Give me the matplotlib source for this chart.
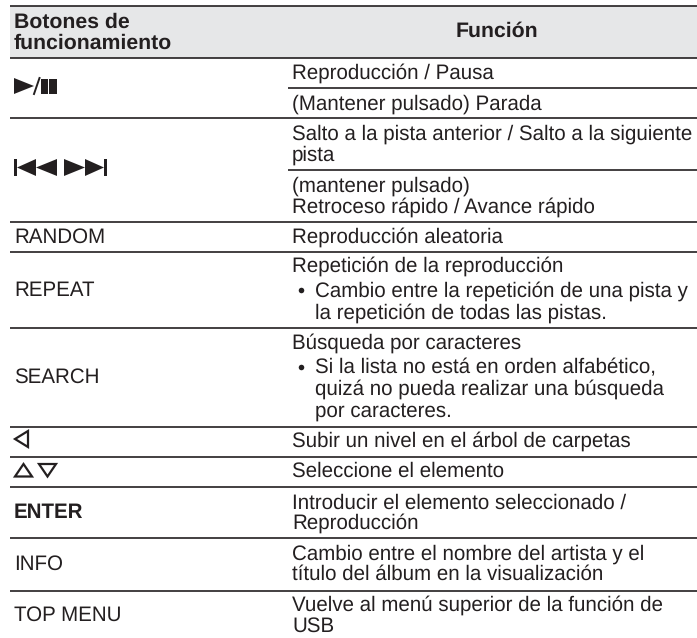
import matplotlib
matplotlib.use("Agg")
import matplotlib.pyplot as plt
from matplotlib.patches import Rectangle, Polygon

W, H = 697, 638
plt.rcParams['font.family'] = ['Liberation Sans', 'DejaVu Sans']
plt.rcParams['text.hinting'] = 'no_hinting'
plt.rcParams['text.hinting_factor'] = 8

header_left = ["Botones de", "funcionamiento"]
header_left_y = [21, 42]
left_labels = ["RANDOM", "REPEAT", "SEARCH", "ENTER", "INFO", "TOP MENU"]
left_y = [236, 289, 376, 511, 563, 614]
left_weight = ["normal", "normal", "normal", "bold", "normal", "normal"]
right_lines = [
    ("Reproducción / Pausa", 292, 72), ("(Mantener pulsado) Parada", 292, 103),
    ("Salto a la pista anterior / Salto a la siguiente", 292, 133), ("pista", 292, 154),
    ("(mantener pulsado)", 292, 185), ("Retroceso rápido / Avance rápido", 292, 206),
    ("Reproducción aleatoria", 292, 236), ("Repetición de la reproducción", 292, 265),
    ("Cambio entre la repetición de una pista y", 315, 290), ("la repetición de todas las pistas.", 315, 312),
    ("Búsqueda por caracteres", 292, 342), ("Si la lista no está en orden alfabético,", 315, 367),
    ("quizá no pueda realizar una búsqueda", 315, 388), ("por caracteres.", 315, 410),
    ("Subir un nivel en el árbol de carpetas", 292, 440), ("Seleccione el elemento", 292, 470),
    ("Introducir el elemento seleccionado /", 292, 502), ("Reproducción", 292, 522),
    ("Cambio entre el nombre del artista y el", 292, 553), ("título del álbum en la visualización", 292, 573),
    ("Vuelve al menú superior de la función de", 292, 604), ("USB", 292, 625),
]
bullets_y = [290, 367]
full_rules = [6, 57.5, 118, 221.5, 252, 328, 426.5, 456.5, 487, 538, 590.5]
part_rules = [88, 170]

fig = plt.figure(figsize=(W/100, H/100), dpi=100)
ax = fig.add_axes([0, 0, 1, 1])
ax.set_xlim(0, W); ax.set_ylim(H, 0); ax.axis("off")
INK = "#231f20"
DY = -1.0
ax.add_patch(Rectangle((10, 6), W-10, 51.5, color="#e6e7e8", lw=0))
for y in full_rules:
    ax.plot([10, W], [y, y], color=INK, lw=1.2, solid_capstyle="butt")
for y in part_rules:
    ax.plot([288, W], [y, y], color=INK, lw=1.2, solid_capstyle="butt")
FS = 14.8
FSB = 15.3
for s, y in zip(header_left, header_left_y):
    ax.text(14, y + DY, s, fontsize=FSB, weight="bold", color=INK, va="center_baseline")
ax.text(497, 30 + DY, "Función", fontsize=FSB, weight="bold", color=INK, va="center_baseline", ha="center")
for s, y, w in zip(left_labels, left_y, left_weight):
    ax.text(14, y + DY, s, fontsize=FS, weight=w, color=INK, va="center_baseline")
for s, x, y in right_lines:
    ax.text(x, y + DY, s, fontsize=FS, color=INK, va="center_baseline")
for y in bullets_y:
    ax.plot([300.7], [y], "o", ms=4.0, color=INK, mew=0)
# button glyphs
ax.add_patch(Polygon([(14, 78), (14, 94), (34, 86)], color=INK, lw=0))
ax.plot([34, 39.5], [94, 78], color=INK, lw=1.4)
ax.add_patch(Rectangle((41, 79), 6.5, 15, color=INK, lw=0))
ax.add_patch(Rectangle((49, 79), 8, 15, color=INK, lw=0))
ax.add_patch(Rectangle((14, 159), 3, 17, color=INK, lw=0))
ax.add_patch(Polygon([(36, 159), (36, 176), (17, 167.5)], color=INK, lw=0))
ax.add_patch(Polygon([(57, 159), (57, 176), (36, 167.5)], color=INK, lw=0))
ax.add_patch(Polygon([(64, 159), (64, 176), (85, 167.5)], color=INK, lw=0))
ax.add_patch(Polygon([(85, 159), (85, 176), (104, 167.5)], color=INK, lw=0))
ax.add_patch(Rectangle((104, 159), 3, 17, color=INK, lw=0))
ax.add_patch(Polygon([(15, 439), (28, 431), (28, 447)], fill=False, ec=INK, lw=1.6))
ax.add_patch(Polygon([(15, 476.5), (23.5, 464), (32, 476.5)], fill=False, ec=INK, lw=1.6))
ax.add_patch(Polygon([(39, 464), (56, 464), (47.5, 476.5)], fill=False, ec=INK, lw=1.6))
fig.savefig("out.png", dpi=100)
